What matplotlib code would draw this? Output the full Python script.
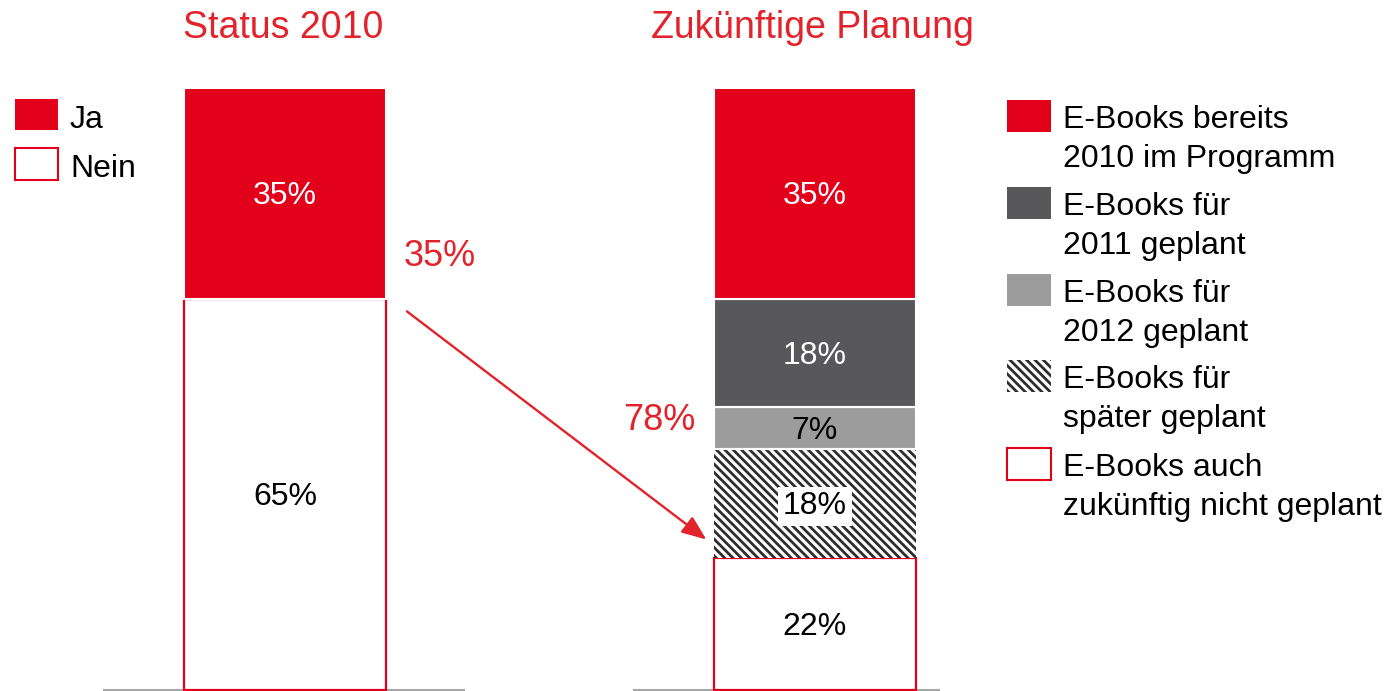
import matplotlib
matplotlib.use("Agg")
import matplotlib.pyplot as plt
from matplotlib.patches import Rectangle

plt.rcParams['font.family'] = ['Liberation Sans', 'DejaVu Sans']
plt.rcParams['hatch.linewidth'] = 2.0

# ---------------- data ----------------
titles = ["Status 2010", "Zukünftige Planung"]

status_labels = ["Ja", "Nein"]
status_values = [35, 65]          # top -> bottom

plan_labels = ["E-Books bereits\n2010 im Programm",
               "E-Books für\n2011 geplant",
               "E-Books für\n2012 geplant",
               "E-Books für\nspäter geplant",
               "E-Books auch\nzukünftig nicht geplant"]
plan_values = [35, 18, 7, 18, 22]  # top -> bottom

side_labels = ["35%", "78%"]

# ---------------- styles ----------------
RED = "#E2001A"
RED_TXT = "#E3232B"
DARK = "#58585A"
LIGHT = "#9D9C9C"
HATCH_C = "#2E2E2E"
BASE = "#A6A6A6"
HATCH = chr(92) * 4

W, H = 1393, 691
fig = plt.figure(figsize=(W / 100, H / 100), dpi=100)
ax = fig.add_axes([0, 0, 1, 1])
ax.set_xlim(-0.5377, 2.0906)
ax.set_ylim(-0.166, 114.62)
ax.axis("off")

bw = 0.381
x0, x1 = 0, 1
DY = -0.5  # small downward shift of centred labels (data units)

def fx(px):
    return px / W

def fy(py):
    return 1 - py / H

# ---- left stacked bar ----
ja, nein = status_values
ax.bar(x0, nein, bottom=0, width=bw, facecolor="white", edgecolor=RED, linewidth=1.6, zorder=2)
ax.bar(x0, ja, bottom=nein, width=bw, facecolor=RED, edgecolor="white", linewidth=1.5, zorder=3)
ax.text(x0, nein + ja / 2 + DY, f"{ja}%", ha="center", va="center", color="white", fontsize=23, zorder=5)
ax.text(x0, nein / 2 + DY, f"{nein}%", ha="center", va="center", color="black", fontsize=23, zorder=5)

# ---- right stacked bar ----
v_now, v_2011, v_2012, v_later, v_never = plan_values
b = 0
ax.bar(x1, v_never, bottom=b, width=bw, facecolor="white", edgecolor=RED, linewidth=1.6, zorder=2)
ax.text(x1, b + v_never / 2 + DY, f"{v_never}%", ha="center", va="center", color="black", fontsize=23, zorder=5)
b += v_never
ax.bar(x1, v_later, bottom=b, width=bw, facecolor="white", edgecolor=HATCH_C, linewidth=0,
       hatch=HATCH, zorder=3)
ax.text(x1, b + v_later / 2 + DY, f"{v_later}%", ha="center", va="center", color="black", fontsize=23, zorder=5,
        bbox=dict(facecolor="white", edgecolor="none", pad=3.5))
b += v_later
ax.bar(x1, v_2012, bottom=b, width=bw, facecolor=LIGHT, edgecolor="white", linewidth=1.5, zorder=3)
ax.text(x1, b + v_2012 / 2 + DY, f"{v_2012}%", ha="center", va="center", color="black", fontsize=23, zorder=5)
b += v_2012
ax.bar(x1, v_2011, bottom=b, width=bw, facecolor=DARK, edgecolor="white", linewidth=1.5, zorder=3)
ax.text(x1, b + v_2011 / 2 + DY, f"{v_2011}%", ha="center", va="center", color="white", fontsize=23, zorder=5)
b += v_2011
ax.bar(x1, v_now, bottom=b, width=bw, facecolor=RED, edgecolor="white", linewidth=1.5, zorder=3)
ax.text(x1, b + v_now / 2 + DY, f"{v_now}%", ha="center", va="center", color="white", fontsize=23, zorder=5)

# ---- baselines ----
ax.hlines(0, x0 - 0.343, x0 + 0.34, color=BASE, linewidth=1.5, zorder=1)
ax.hlines(0, x1 - 0.343, x1 + 0.236, color=BASE, linewidth=1.5, zorder=1)

# ---- titles ----
fig.text(fx(283), fy(28), titles[0], ha="center", va="center", color=RED_TXT, fontsize=27)
fig.text(fx(812), fy(28), titles[1], ha="center", va="center", color=RED_TXT, fontsize=27)

# ---- side labels and arrow ----
fig.text(fx(440), fy(256), side_labels[0], ha="center", va="center", color=RED_TXT, fontsize=26)
fig.text(fx(659), fy(421), side_labels[1], ha="center", va="center", color=RED_TXT, fontsize=26)
ax.annotate("", xy=(0.795, 25.0), xytext=(0.230, 62.9),
            arrowprops=dict(arrowstyle="-|>,head_length=1.5,head_width=0.6", color=RED_TXT,
                            lw=1.7, shrinkA=0, shrinkB=0), zorder=6)

# ---- left legend ----
fig.patches.append(Rectangle((fx(15), fy(130)), fx(58) - fx(15), (130 - 99) / H,
                             transform=fig.transFigure, facecolor=RED, edgecolor="none"))
fig.patches.append(Rectangle((fx(15), fy(180)), fx(58) - fx(15), (180 - 148) / H,
                             transform=fig.transFigure, facecolor="white", edgecolor=RED, linewidth=1.5))
fig.text(fx(70), fy(120), status_labels[0], ha="left", va="center", fontsize=23)
fig.text(fx(70), fy(169), status_labels[1], ha="left", va="center", fontsize=23)

# ---- right legend ----
leg_tops = [100, 187, 274, 360, 448]
styles = [dict(facecolor=RED, edgecolor="none"),
          dict(facecolor=DARK, edgecolor="none"),
          dict(facecolor=LIGHT, edgecolor="none"),
          dict(facecolor="white", edgecolor=HATCH_C, linewidth=0, hatch=HATCH),
          dict(facecolor="white", edgecolor=RED, linewidth=1.5)]
for top, st, lab in zip(leg_tops, styles, plan_labels):
    fig.patches.append(Rectangle((fx(1007), fy(top + 32)), fx(1051) - fx(1007), 32 / H,
                                 transform=fig.transFigure, **st))
    l1, l2 = lab.split("\n")
    fig.text(fx(1063), fy(top + 20), l1, ha="left", va="center", fontsize=23)
    fig.text(fx(1063), fy(top + 59), l2, ha="left", va="center", fontsize=23)

fig.savefig("out.png", dpi=100)
